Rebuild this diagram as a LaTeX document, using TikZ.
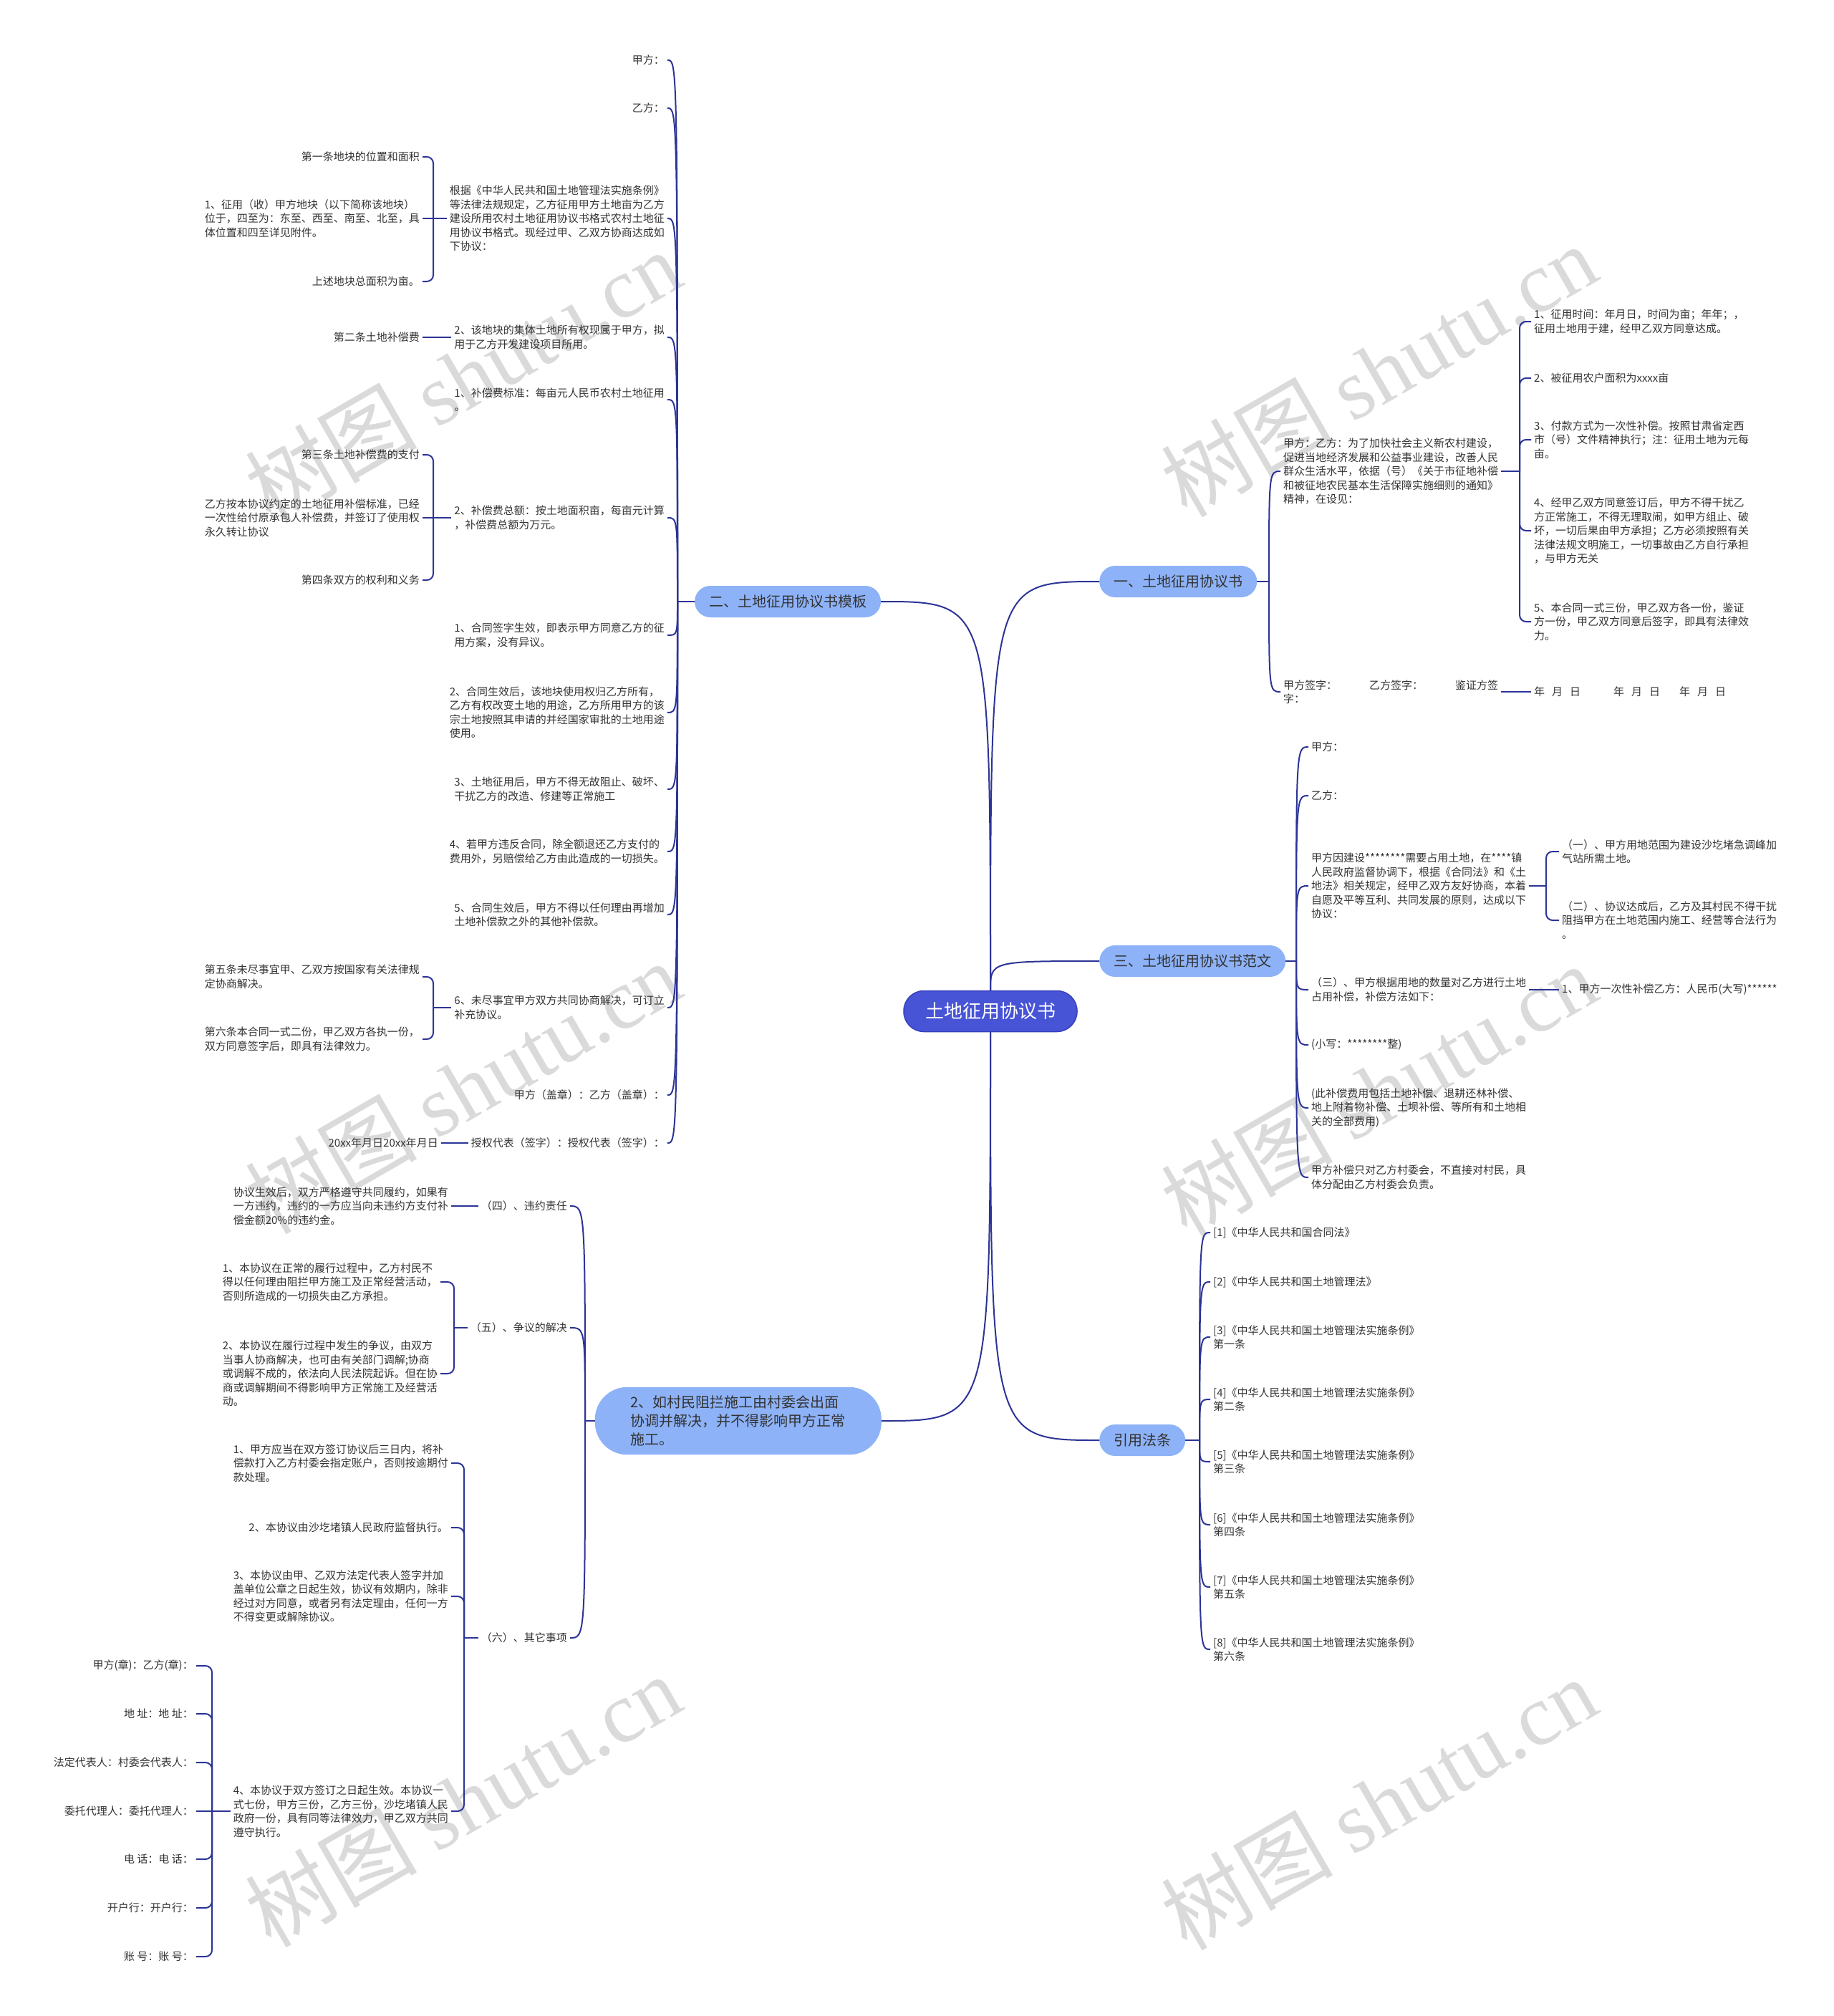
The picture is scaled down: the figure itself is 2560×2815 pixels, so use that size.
\documentclass[tikz,border=0pt]{standalone}
\usepackage{fontspec}
\setmainfont{Noto Sans CJK SC}
\newfontfamily\wmlatin{Liberation Serif}
\definecolor{linec}{RGB}{44,52,150}
\definecolor{centc}{RGB}{72,84,214}
\definecolor{centd}{RGB}{55,64,190}
\definecolor{brc}{RGB}{141,178,247}
\definecolor{txtc}{RGB}{51,51,51}
\definecolor{wmc}{RGB}{218,218,218}
\newcommand\mmcurve[2]{\draw[conn] (#1) .. controls (#1 |- #2) and (#1 |- #2) .. (#2);}
\newcommand\mmbrack[2]{\draw[conn, rounded corners=9pt] (#1) |- (#2);}
\tikzset{
  conn/.style={draw=linec, line width=2pt},
  tl/.style={inner xsep=4pt, inner ysep=2pt, align=left, text=txtc, font=\fontsize{15}{19.5}\selectfont},
  L/.style={tl, anchor=east},
  R/.style={tl, anchor=west},
  br/.style={fill=brc, rounded corners=22pt, minimum height=44pt, inner xsep=20pt, text=txtc, font=\fontsize{20}{26}\selectfont},
  wm/.style={text=wmc, rotate=30, font=\fontsize{120}{120}\selectfont},
}
\begin{document}
\begin{tikzpicture}[x=1pt, y=-1pt]
\fill[white] (0,0) rectangle (2560,2815);
\useasboundingbox (0,0) rectangle (2560,2815);
% watermarks
\node[wm] (w1) at (646,525) {树图 {\wmlatin shutu.cn}};
\node[wm] (w2) at (1925,517) {树图 {\wmlatin shutu.cn}};
\node[wm] (w3) at (646,1518) {树图 {\wmlatin shutu.cn}};
\node[wm] (w4) at (1925,1522) {树图 {\wmlatin shutu.cn}};
\node[wm] (w5) at (646,2514) {树图 {\wmlatin shutu.cn}};
\node[wm] (w6) at (1925,2518) {树图 {\wmlatin shutu.cn}};

% center and branches
\node[fill=centc, draw=centd, line width=1.5pt, rounded corners=28pt, minimum height=57pt, inner xsep=30pt, text=white, font=\fontsize{26}{30}\selectfont] (M) at (1383,1412) {土地征用协议书};
\node[br] (B2) at (1100,840) {二、土地征用协议书模板};
\node[br, anchor=west] (B1) at (1535,812) {一、土地征用协议书};
\node[br, anchor=west] (B3) at (1535,1342) {三、土地征用协议书范文};
\node[br, anchor=west] (B4) at (1535,2011) {引用法条};
\node[br, anchor=east, align=left, rounded corners=45pt, inner xsep=50pt, inner ysep=12pt] (B5) at (1231,1984) {2、如村民阻拦施工由村委会出面\\协调并解决，并不得影响甲方正常\\施工。};

\draw[conn] (M.north) .. controls (M.north |- B1.west) .. (B1.west);
\draw[conn] (M.north) .. controls (M.north |- B2.east) .. (B2.east);
\draw[conn] (M.north) .. controls (M.north |- B3.west) .. (B3.west);
\draw[conn] (M.south) .. controls (M.south |- B4.west) .. (B4.west);
\draw[conn] (M.south) .. controls (M.south |- B5.east) .. (B5.east);

% ===== branch 二 =====
\coordinate (J2) at (946,840);
\draw[conn] (B2.west) -- (J2);
\node[L] (a1) at (932,84) {甲方：};
\node[L] (a2) at (932,151) {乙方：};
\node[L] (a3) at (932,305) {根据《中华人民共和国土地管理法实施条例》\\等法律法规规定，乙方征用甲方土地亩为乙方\\建设所用农村土地征用协议书格式农村土地征\\用协议书格式。现经过甲、乙双方协商达成如\\下协议：};
\node[L] (a4) at (932,471) {2、该地块的集体土地所有权现属于甲方，拟\\用于乙方开发建设项目所用。};
\node[L] (a5) at (932,558) {1、补偿费标准：每亩元人民币农村土地征用\\。};
\node[L] (a6) at (932,723) {2、补偿费总额：按土地面积亩，每亩元计算\\，补偿费总额为万元。};
\node[L] (a7) at (932,887) {1、合同签字生效，即表示甲方同意乙方的征\\用方案，没有异议。};
\node[L] (a8) at (932,995) {2、合同生效后，该地块使用权归乙方所有，\\乙方有权改变土地的用途，乙方所用甲方的该\\宗土地按照其申请的并经国家审批的土地用途\\使用。};
\node[L] (a9) at (932,1102) {3、土地征用后，甲方不得无故阻止、破坏、\\干扰乙方的改造、修建等正常施工};
\node[L] (a10) at (932,1189) {4、若甲方违反合同，除全额退还乙方支付的\\费用外，另赔偿给乙方由此造成的一切损失。};
\node[L] (a11) at (932,1277) {5、合同生效后，甲方不得以任何理由再增加\\土地补偿款之外的其他补偿款。};
\node[L] (a12) at (932,1407) {6、未尽事宜甲方双方共同协商解决，可订立\\补充协议。};
\node[L] (a13) at (932,1529) {甲方（盖章）：乙方（盖章）：};
\node[L] (a14) at (932,1596) {授权代表（签字）：授权代表（签字）：};
\foreach \n in {a1,a2,a3,a4,a5,a6,a7,a8,a9,a10,a11,a12,a13,a14} {\mmcurve{J2}{\n.east}}

\node[L] (b1) at (590,219) {第一条地块的位置和面积};
\node[L] (b2) at (590,305) {1、征用（收）甲方地块（以下简称该地块）\\位于，四至为：东至、西至、南至、北至，具\\体位置和四至详见附件。};
\node[L] (b3) at (590,393) {上述地块总面积为亩。};
\node[L] (b4) at (590,471) {第二条土地补偿费};
\node[L] (b5) at (590,635) {第三条土地补偿费的支付};
\node[L] (b6) at (590,723) {乙方按本协议约定的土地征用补偿标准，已经\\一次性给付原承包人补偿费，并签订了使用权\\永久转让协议};
\node[L] (b7) at (590,810) {第四条双方的权利和义务};
\node[L] (b8) at (590,1364) {第五条未尽事宜甲、乙双方按国家有关法律规\\定协商解决。};
\node[L] (b9) at (590,1451) {第六条本合同一式二份，甲乙双方各执一份，\\双方同意签字后，即具有法律效力。};
\node[L] (b10) at (616,1596) {20xx年月日20xx年月日};

\coordinate (Ja3) at (605,305);
\draw[conn] (a3.west) -- (Ja3) -- (b2.east);
\mmbrack{Ja3}{b1.east}
\mmbrack{Ja3}{b3.east}
\draw[conn] (a4.west) -- (b4.east);
\coordinate (Ja6) at (605,723);
\draw[conn] (a6.west) -- (Ja6) -- (b6.east);
\mmbrack{Ja6}{b5.east}
\mmbrack{Ja6}{b7.east}
\coordinate (Ja12) at (605,1407);
\draw[conn] (a12.west) -- (Ja12);
\mmbrack{Ja12}{b8.east}
\mmbrack{Ja12}{b9.east}
\draw[conn] (a14.west) -- (b10.east);

% ===== branch 一 =====
\coordinate (J1) at (1772,812);
\draw[conn] (B1.east) -- (J1);
\node[R] (c1) at (1788,658) {甲方：乙方：为了加快社会主义新农村建设，\\促进当地经济发展和公益事业建设，改善人民\\群众生活水平，依据（号）《关于市征地补偿\\和被征地农民基本生活保障实施细则的通知》\\精神，在设见：};
\node[R] (c2) at (1788,966) {甲方签字：\hspace{45pt}乙方签字：\hspace{45pt}鉴证方签\\字：};
\mmcurve{J1}{c1.west}
\mmcurve{J1}{c2.west}
\node[R] (d1) at (2138,449) {1、征用时间：年月日，时间为亩；年年；，\\征用土地用于建，经甲乙双方同意达成。};
\node[R] (d2) at (2138,528) {2、被征用农户面积为xxxx亩};
\node[R] (d3) at (2138,614) {3、付款方式为一次性补偿。按照甘肃省定西\\市（号）文件精神执行；注：征用土地为元每\\亩。};
\node[R] (d4) at (2138,741) {4、经甲乙双方同意签订后，甲方不得干扰乙\\方正常施工，不得无理取闹，如甲方组止、破\\坏，一切后果由甲方承担；乙方必须按照有关\\法律法规文明施工，一切事故由乙方自行承担\\，与甲方无关};
\node[R] (d5) at (2138,868) {5、本合同一式三份，甲乙双方各一份，鉴证\\方一份，甲乙双方同意后签字，即具有法律效\\力。};
\node[R] (d6) at (2138,966) {年\hspace{10pt}月\hspace{10pt}日\hspace{46pt}年\hspace{10pt}月\hspace{10pt}日\hspace{27pt}年\hspace{10pt}月\hspace{10pt}日};
\coordinate (Jc1) at (2122,658);
\draw[conn] (c1.east) -- (Jc1);
\foreach \n in {d1,d2,d3,d4,d5} {\mmbrack{Jc1}{\n.west}}
\draw[conn] (c2.east) -- (d6.west);

% ===== branch 三 =====
\coordinate (J3) at (1810,1342);
\draw[conn] (B3.east) -- (J3);
\node[R] (e1) at (1827,1043) {甲方：};
\node[R] (e2) at (1827,1111) {乙方：};
\node[R] (e3) at (1827,1237) {甲方因建设********需要占用土地，在****镇\\人民政府监督协调下，根据《合同法》和《土\\地法》相关规定，经甲乙双方友好协商，本着\\自愿及平等互利、共同发展的原则，达成以下\\协议：};
\node[R] (e4) at (1827,1382) {（三）、甲方根据用地的数量对乙方进行土地\\占用补偿，补偿方法如下：};
\node[R] (e5) at (1827,1459) {(小写：********整)};
\node[R] (e6) at (1827,1547) {(此补偿费用包括土地补偿、退耕还林补偿、\\地上附着物补偿、土坝补偿、等所有和土地相\\关的全部费用)};
\node[R] (e7) at (1827,1644) {甲方补偿只对乙方村委会，不直接对村民，具\\体分配由乙方村委会负责。};
\foreach \n in {e1,e2,e3,e4,e5,e6,e7} {\mmcurve{J3}{\n.west}}
\node[R] (f1) at (2177,1189) {（一）、甲方用地范围为建设沙圪堵急调峰加\\气站所需土地。};
\node[R] (f2) at (2177,1285) {（二）、协议达成后，乙方及其村民不得干扰\\阻挡甲方在土地范围内施工、经营等合法行为\\。};
\node[R] (f3) at (2177,1382) {1、甲方一次性补偿乙方：人民币(大写)******};
\coordinate (Je3) at (2159,1237);
\draw[conn] (e3.east) -- (Je3);
\mmbrack{Je3}{f1.west}
\mmbrack{Je3}{f2.west}
\draw[conn] (e4.east) -- (f3.west);

% ===== 引用法条 =====
\coordinate (J4) at (1675,2011);
\draw[conn] (B4.east) -- (J4);
\node[R] (g1) at (1690,1721) {[1]《中华人民共和国合同法》};
\node[R] (g2) at (1690,1790) {[2]《中华人民共和国土地管理法》};
\node[R] (g3) at (1690,1867) {[3]《中华人民共和国土地管理法实施条例》\\第一条};
\node[R] (g4) at (1690,1954) {[4]《中华人民共和国土地管理法实施条例》\\第二条};
\node[R] (g5) at (1690,2041) {[5]《中华人民共和国土地管理法实施条例》\\第三条};
\node[R] (g6) at (1690,2129) {[6]《中华人民共和国土地管理法实施条例》\\第四条};
\node[R] (g7) at (1690,2216) {[7]《中华人民共和国土地管理法实施条例》\\第五条};
\node[R] (g8) at (1690,2303) {[8]《中华人民共和国土地管理法实施条例》\\第六条};
\foreach \n in {g1,g2,g3,g4,g5,g6,g7,g8} {\mmcurve{J4}{\n.west}}

% ===== branch 2、如村民 =====
\coordinate (J5) at (817,1984);
\draw[conn] (B5.west) -- (J5);
\node[L] (h1) at (796,1684) {（四）、违约责任};
\node[L] (h2) at (796,1854) {（五）、争议的解决};
\node[L] (h3) at (796,2287) {（六）、其它事项};
\foreach \n in {h1,h2,h3} {\mmcurve{J5}{\n.east}}
\node[L] (i1) at (630,1684) {协议生效后，双方严格遵守共同履约，如果有\\一方违约，违约的一方应当向未违约方支付补\\偿金额20\%的违约金。};
\draw[conn] (h1.west) -- (i1.east);
\node[L] (i2) at (615,1790) {1、本协议在正常的履行过程中，乙方村民不\\得以任何理由阻拦甲方施工及正常经营活动，\\否则所造成的一切损失由乙方承担。};
\node[L] (i3) at (615,1918) {2、本协议在履行过程中发生的争议，由双方\\当事人协商解决，也可由有关部门调解;协商\\或调解不成的，依法向人民法院起诉。但在协\\商或调解期间不得影响甲方正常施工及经营活\\动。};
\coordinate (Jh2) at (634,1854);
\draw[conn] (h2.west) -- (Jh2);
\mmbrack{Jh2}{i2.east}
\mmbrack{Jh2}{i3.east}
\node[L] (i4) at (630,2043) {1、甲方应当在双方签订协议后三日内，将补\\偿款打入乙方村委会指定账户，否则按逾期付\\款处理。};
\node[L] (i5) at (630,2133) {2、本协议由沙圪堵镇人民政府监督执行。};
\node[L] (i6) at (630,2229) {3、本协议由甲、乙双方法定代表人签字并加\\盖单位公章之日起生效，协议有效期内，除非\\经过对方同意，或者另有法定理由，任何一方\\不得变更或解除协议。};
\node[L] (i7) at (630,2529) {4、本协议于双方签订之日起生效。本协议一\\式七份，甲方三份，乙方三份，沙圪堵镇人民\\政府一份，具有同等法律效力，甲乙双方共同\\遵守执行。};
\coordinate (Jh3) at (648,2287);
\draw[conn] (h3.west) -- (Jh3);
\foreach \n in {i4,i5,i6,i7} {\mmbrack{Jh3}{\n.east}}
\node[L] (j1) at (274,2326) {甲方(章)：乙方(章)：};
\node[L] (j2) at (274,2393) {地 址：地 址：};
\node[L] (j3) at (274,2461) {法定代表人：村委会代表人：};
\node[L] (j4) at (274,2529) {委托代理人：委托代理人：};
\node[L] (j5) at (274,2596) {电 话：电 话：};
\node[L] (j6) at (274,2664) {开户行：开户行：};
\node[L] (j7) at (274,2732) {账 号：账 号：};
\coordinate (Ji7) at (296,2529);
\draw[conn] (i7.west) -- (Ji7) -- (j4.east);
\foreach \n in {j1,j2,j3,j5,j6,j7} {\mmbrack{Ji7}{\n.east}}
\end{tikzpicture}
\end{document}
